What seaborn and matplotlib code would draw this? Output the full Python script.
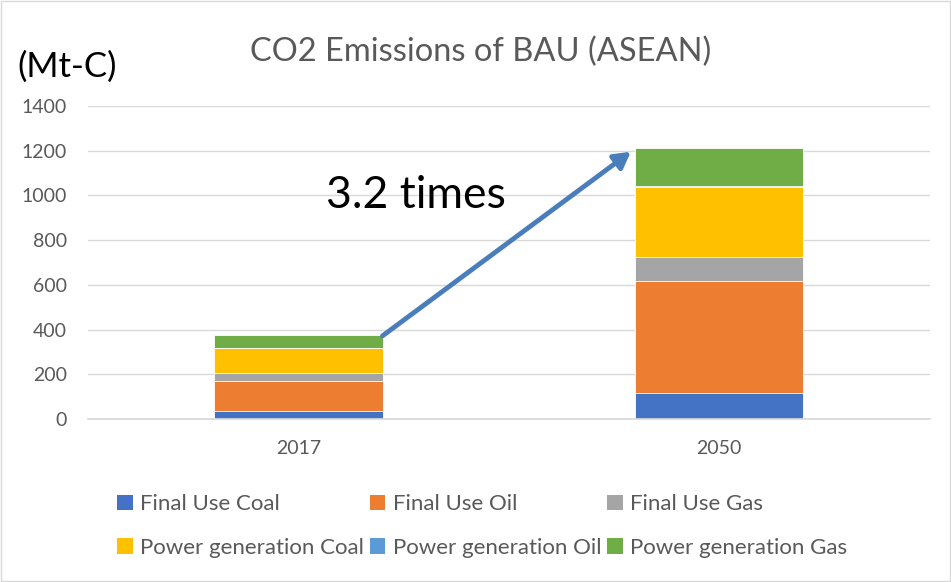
import numpy as np
import pandas as pd
import seaborn as sns
import matplotlib
matplotlib.use('Agg')
from matplotlib import pyplot as plt
from matplotlib.patches import Patch

# Datos (Mt-C).
years = ['2017', '2050']
series = ['Final Use Coal', 'Final Use Oil', 'Final Use Gas',
          'Power generation Coal', 'Power generation Oil', 'Power generation Gas']
final_coal = [34, 115]
final_oil = [134, 502]
final_gas = [36, 106]
power_coal = [112, 315]
power_oil = [3, 3]
power_gas = [57, 173]
colores = ['#4472C4', '#ED7D31', '#A5A5A5', '#FFC000', '#5B9BD5', '#70AD47']

sns.set_theme(style='white')
plt.rcParams['font.family'] = ['Lato', 'DejaVu Sans']

valores = np.array([final_coal, final_oil, final_gas, power_coal, power_oil, power_gas])
acumulado = np.cumsum(valores, axis=0)

fig = plt.figure(figsize=(9.51, 5.82), dpi=100)
ax = fig.add_axes([0.0925, 0.28, 0.885, 0.538])

# Se dibujan los totales acumulados de mayor a menor para formar la pila.
for i in range(len(series) - 1, -1, -1):
    df = pd.DataFrame({'year': years, 'value': acumulado[i]})
    sns.barplot(data=df, x='year', y='value', color=colores[i], width=0.4,
                saturation=1, edgecolor='white', linewidth=0.6, ax=ax)

ax.set_ylim(0, 1400)
ax.set_yticks(range(0, 1401, 200))
ax.set_xlim(-0.5, 1.5)
ax.grid(axis='y', color='#D9D9D9', linewidth=1)
ax.set_axisbelow(True)
for lado in ['top', 'right', 'left']:
    ax.spines[lado].set_visible(False)
ax.spines['bottom'].set_color('#D9D9D9')
ax.set_xlabel('')
ax.set_ylabel('')
ax.tick_params(axis='both', length=0, labelsize=14, colors='#595959')
ax.tick_params(axis='x', pad=15)
ax.tick_params(axis='y', pad=15)

fig.text(0.505, 0.911, 'CO2 Emissions of BAU (ASEAN)', ha='center', va='center',
         fontsize=23.5, color='#595959')
fig.text(0.018, 0.885, '(Mt-C)', ha='left', va='center', fontsize=25, color='black')

ax.annotate('', xy=(0.79, 1195), xytext=(0.2, 372),
            arrowprops=dict(arrowstyle='-|>,head_length=0.8,head_width=0.45',
                            color='#4A7EBB', lw=3.5, shrinkA=0, shrinkB=0))
ax.text(0.065, 1000, '3.2 times', fontsize=32, color='black', va='center')

# Orden por filas para la leyenda de 3 columnas.
orden = [0, 3, 1, 4, 2, 5]
handles = [Patch(facecolor=colores[k], edgecolor='none') for k in orden]
etiquetas = [series[k] for k in orden]
fig.legend(handles, etiquetas, loc='center left', bbox_to_anchor=(0.123, 0.096), ncol=3,
           frameon=False, fontsize=16, handlelength=0.7, handleheight=0.7,
           handletextpad=0.35, columnspacing=0.25, labelspacing=1.05,
           labelcolor='#595959', borderpad=0, borderaxespad=0)

fig.patches.append(plt.Rectangle((0.001, 0.001), 0.998, 0.998, transform=fig.transFigure,
                                 fill=False, edgecolor='#D9D9D9', linewidth=1))

fig.savefig('out.png', dpi=100)
